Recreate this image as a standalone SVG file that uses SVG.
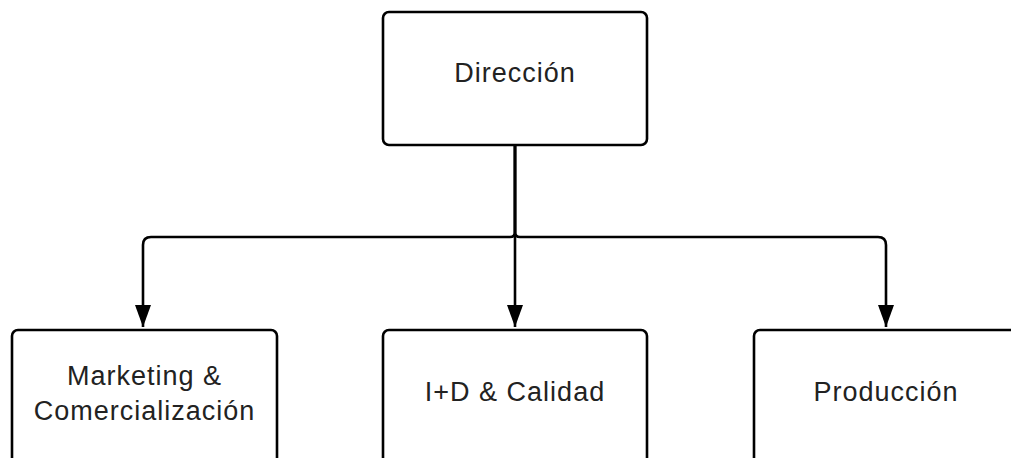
<svg xmlns="http://www.w3.org/2000/svg" width="1011" height="458" viewBox="0 0 1011 458">
<style>
.box{fill:#fff;stroke:#000;stroke-width:2.6}
.lbl{font-family:"Liberation Sans",Arial,sans-serif;font-size:27px;letter-spacing:1px;fill:#222;text-anchor:middle}
.conn{fill:none;stroke:#000;stroke-width:2.6}
</style>
<defs>
<marker id="arr" markerUnits="userSpaceOnUse" markerWidth="22" markerHeight="16" refX="22" refY="8" orient="auto" viewBox="0 0 22 16">
<path d="M0,0 L22,8 L0,16 Z" fill="#000"/>
</marker>
</defs>
<rect width="1011" height="458" fill="#fff"/>
<g id="connectors">
<path class="conn" d="M515,145 V232 Q515,237 510,237 H151 Q143,237 143,245 V327" marker-end="url(#arr)"/>
<path class="conn" d="M515,145 V327" marker-end="url(#arr)"/>
<path class="conn" d="M515,145 V232 Q515,237 520,237 H878 Q886,237 886,245 V327" marker-end="url(#arr)"/>
</g>
<g id="direccion">
<rect class="box" x="383" y="12" width="264" height="133" rx="6"/>
<text class="lbl" x="515" y="82">Dirección</text>
</g>
<g id="marketing">
<rect class="box" x="12" y="330" width="265" height="160" rx="6"/>
<text class="lbl" x="144.5" y="385">Marketing &amp;</text>
<text class="lbl" x="144.5" y="420">Comercialización</text>
</g>
<g id="id-calidad">
<rect class="box" x="383" y="330" width="264" height="160" rx="6"/>
<text class="lbl" x="515" y="401">I+D &amp; Calidad</text>
</g>
<g id="produccion">
<rect class="box" x="754" y="330" width="264" height="160" rx="6"/>
<text class="lbl" x="886" y="401">Producción</text>
</g>
</svg>
